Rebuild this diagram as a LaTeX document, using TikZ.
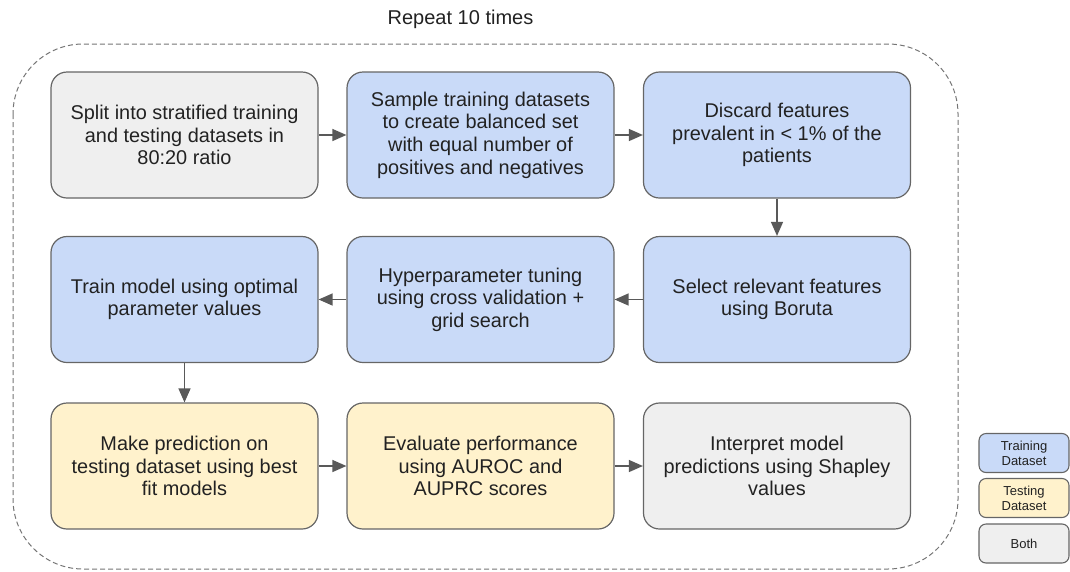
\documentclass[tikz,border=0pt]{standalone}
\usepackage{fontspec}
\setmainfont{Liberation Sans}
\usetikzlibrary{arrows.meta}
\definecolor{bluefill}{HTML}{C9DAF8}
\definecolor{yellowfill}{HTML}{FFF2CC}
\definecolor{grayfill}{HTML}{EFEFEF}
\definecolor{edge}{HTML}{666666}
\definecolor{arrowc}{HTML}{595959}
\definecolor{txt}{HTML}{222222}
\begin{document}
\begin{tikzpicture}[x=1pt,y=-1pt,
  stepbox/.style={draw=edge, line width=1.2pt, rounded corners=16pt, minimum width=267pt, minimum height=126pt, align=center, text=txt, font=\fontsize{19.9}{22.6}\selectfont, inner sep=0pt},
  blue/.style={stepbox, fill=bluefill},
  yellow/.style={stepbox, fill=yellowfill},
  grey/.style={stepbox, fill=grayfill},
  legend/.style={draw=edge, line width=1.1pt, rounded corners=7pt, minimum width=90pt, minimum height=39pt, align=center, text=txt, font=\fontsize{13}{15}\selectfont, inner sep=0pt},
  conn/.style={draw=arrowc, line width=1.3pt, -{Triangle[length=14pt,width=12pt]}}]
\useasboundingbox (0,0) rectangle (1070,571);
\draw[edge!90, line width=1pt, dash pattern=on 5pt off 3pt, rounded corners=70pt] (13,44) rectangle (958,569);
\node[font=\fontsize{20}{23}\selectfont, text=txt] (title) at (460.5,19) {Repeat 10 times};
% row 1
\node[grey] (b1) at (184.5,135) {Split into stratified training\\and testing datasets in\\80:20 ratio};
\node[blue] (b2) at (480.5,135) {Sample training datasets\\to create balanced set\\with equal number of\\positives and negatives};
\node[blue] (b3) at (777,135) {Discard features\\prevalent in < 1\% of the\\patients};
% row 2
\node[blue] (b4) at (184.5,299.5) {Train model using optimal\\parameter values};
\node[blue] (b5) at (480.5,299.5) {Hyperparameter tuning\\using cross validation +\\grid search};
\node[blue] (b6) at (777,299.5) {Select relevant features\\using Boruta};
% row 3
\node[yellow] (b7) at (184.5,466) {Make prediction on\\testing dataset using best\\fit models};
\node[yellow] (b8) at (480.5,466) {Evaluate performance\\using AUROC and\\AUPRC scores};
\node[grey] (b9) at (777,466) {Interpret model\\predictions using Shapley\\values};
% legend
\node[legend, fill=bluefill] (l1) at (1024,453) {Training\\Dataset};
\node[legend, fill=yellowfill] (l2) at (1024,498) {Testing\\Dataset};
\node[legend, fill=grayfill] (l3) at (1024,543.5) {Both};
% connectors
\draw[conn] (b1) -- (b2);
\draw[conn] (b2) -- (b3);
\draw[conn] (b3) -- (b6);
\draw[conn] (b6) -- (b5);
\draw[conn] (b5) -- (b4);
\draw[conn] (b4) -- (b7);
\draw[conn] (b7) -- (b8);
\draw[conn] (b8) -- (b9);
\end{tikzpicture}
\end{document}
